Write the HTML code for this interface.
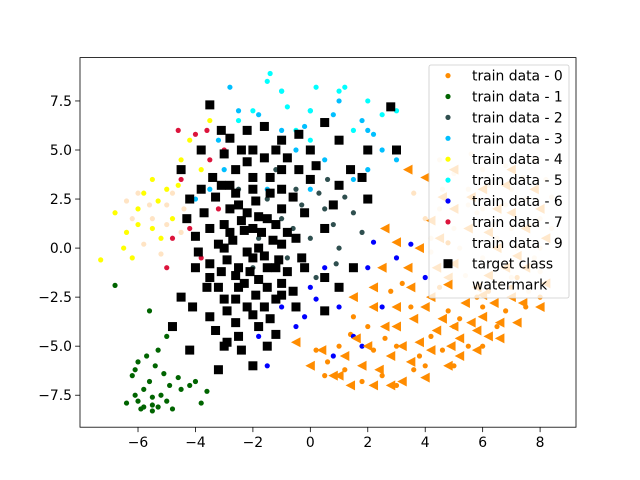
<!DOCTYPE html>
<html><head><meta charset="utf-8"><style>
body{margin:0;background:#fff}
svg{display:block;font-family:"DejaVu Sans","Liberation Sans",sans-serif}
</style></head><body>
<svg id="chart" width="640" height="480" xmlns="http://www.w3.org/2000/svg">
<rect width="640" height="480" fill="#fff"/>
<g id="marks"></g>
<rect x="80" y="57.6" width="496" height="369.6" fill="none" stroke="#000" stroke-width="0.8"/>
<g id="axes"></g>
<g id="legend"></g>
</svg>
<script>
const xTicks=[-6,-4,-2,0,2,4,6,8];
const yTicks=[-7.5,-5,-2.5,0,2.5,5,7.5];
const train0=[[3,-5],[4,-6],[5,-4],[6,-3],[7,-2],[2.5,-6.5],[1,-5],[0.5,-6.5],[3.5,-3],[5.5,-5],[6.5,-4],[7.5,-3],[4.5,-2],[2,-4],[8,-2.5],[1.5,-3.5],[3,-7],[5,-6],[6,-5],[0.2,-5.2],[2.8,-2.2],[4.2,-4.5],[3.8,-5.5],[7.2,-1.5],[6.8,-3.2],[1.2,-6.2],[2.2,-5.2],[4.8,-3.2],[5.8,-2.5],[3.2,-1.8],[1.8,-6.8],[0.6,-5.8],[2.6,-4.6],[4.6,-5.2],[5.2,-3.6],[6.2,-2.2],[3.6,-6.2],[1.4,-4.4]];
const train1=[[-6,-7.8],[-5.8,-7.2],[-5.5,-8],[-5.2,-7.5],[-6.2,-6.5],[-5.6,-6.8],[-5,-7.8],[-4.5,-7.2],[-4.2,-7],[-5.9,-8.2],[-5.4,-6],[-5.7,-5.5],[-5.3,-5.2],[-6,-5.8],[-4.8,-8.2],[-5.1,-6.4],[-6.4,-7.9],[-4.6,-6.6],[-3.6,-7.3],[-3.8,-7.9],[-5,-4.5],[-5.6,-3.2],[-6.8,-1.9],[-5.5,-8.3],[-4,-6.8],[-6.1,-7.5],[-5.8,-8.1],[-5.3,-8.1],[-4.9,-7],[-6.1,-6.2],[-5.5,-7.6]];
const train2=[[-1,1.5],[0,0.5],[0.5,2],[-0.5,3],[1,0],[-2,-1],[0.8,1.2],[-1.5,2.5],[0.2,-1.5],[1.5,1.8],[-0.8,-0.5],[0.6,3.5],[-1.2,4],[1.8,0.8],[-0.3,2.2],[0.9,-0.8],[-2.5,3],[-1.8,0.5],[0.3,2.8],[1.2,2.6],[-0.6,1]];
const train3=[[-2,5],[-1,6],[0,7],[1,5.5],[2,6],[-3,4],[-2.5,7],[0.5,4.5],[1.5,3.5],[2.5,5],[-1.5,3],[-0.5,5],[1,7.5],[-2.8,8.2],[2,4],[-1,8],[0,3],[3,4.5],[-3.5,3],[1.8,6.5],[-4,2.5],[-0.2,6.2],[-1.8,6.8],[0.8,6.8],[2.2,5.8],[-3.2,5.5]];
const train4=[[-6,2],[-5.5,1],[-6.5,0],[-5,3],[-4.5,4.5],[-5.8,2.8],[-6.8,1.8],[-7.3,-0.6],[-5.2,0.5],[-4.2,5.5],[-3.8,4],[-6.2,-0.5],[-5.5,3.5],[-4.8,1.5],[-3.5,6.5],[-6,1.2],[-5.3,2.4],[-4.6,3.2],[-6.4,0.8]];
const train5=[[-1,8],[0,7],[1,8],[2,7.5],[-2,7],[-1.5,8.5],[0.5,6.5],[1.5,6],[-0.5,6],[2.5,6.8],[-1.4,8.9],[1.2,8.2],[0,5.5],[-2.5,6.5],[3,7],[0.2,8.2],[-0.8,7.2]];
const train6=[[0,-2],[1,-3],[2,-1],[3,-0.5],[-0.5,-4],[1.5,-4.5],[2.5,-3],[-1.5,-6],[0.5,-1],[3.5,0.2],[1.8,-5],[-1,-3],[4,-1.5],[2.2,0.3],[0.8,-5.5],[-0.2,-3.5],[-1.8,-4.5],[0.2,-2.6]];
const train7=[[-4,5.8],[-3.5,4.5],[-4.5,3.5],[-3.2,2],[-4.8,0.5],[-3.8,-0.5],[-5,-1],[-4.2,1],[-3,5],[-3.6,6],[-4.6,6]];
const train9=[[5,1],[6,2],[7,3],[8,1.5],[5.5,3],[6.5,0.5],[7.5,2.5],[4.5,2],[8.2,3.5],[6,4],[7,1],[5,3.8],[8,0],[6.8,4.2],[4.2,0.5],[-6,2.8],[-5.5,1.5],[-5,2.2],[-4.5,0.8],[-5.8,0.2],[-4.8,2.8],[-6.2,1.5],[-5.2,-0.3],[7.8,4.5],[5.8,1.8],[4.5,4.5],[5.5,2.2],[6.2,3.2],[6.8,2.2],[7.2,0],[7.8,-0.5],[8.4,1],[5.2,0],[4.8,-0.8],[6,-0.5],[7,-1.5],[8,-1.2],[4,1.5],[4.6,3],[5.6,4.8],[6.4,1.2],[7.4,3.6],[8.4,2.6],[3.6,2.8],[4.2,-0.2],[6.6,-1.8],[5.4,-1.4],[7.6,-2.2],[-5.6,2.2],[-5,1.2],[-4.4,2],[-6.4,2.4]];
const target=[[-3,0],[-2,1],[-1,2],[-2.5,-1],[-1.5,-2],[-3.5,1],[-2,3],[-1,4],[-2.8,2],[-3.2,-2],[-2.2,-3],[-1.2,-1],[-0.5,0.5],[-1.8,0],[-2.6,4],[-3.8,3],[-4,-1],[-4.5,-2.5],[-3.5,-3.5],[-2.5,-4.5],[-3,-5],[-2,-6],[-1.5,-5],[-3.2,-6.2],[-4.2,-5.2],[-4.8,-4],[-2,5],[-1,5.5],[-3.5,7.3],[-2.2,6],[0,5],[0.5,6.4],[1,5.5],[2,5],[2.8,7.2],[3,5],[-1,3],[0,3.5],[1,3.2],[2,2.5],[0.5,1],[-0.2,-1],[0.5,-1.5],[1.5,-1],[0.5,-3.2],[-0.5,-3],[1,-2],[-1.8,-4],[-2.8,0.8],[-3.5,-0.8],[-4.2,2.5],[-4.5,4],[-3,4.8],[-2.5,2.2],[-1.5,1.5],[-2,-0.5],[-1,-1.8],[-2.6,-2.6],[-3.2,0.2],[-4,0.6],[-3.8,5],[-2.8,5.6],[-1.6,6.2],[-0.8,4.6],[0.2,4.2],[1.4,4],[-1.4,2.8],[-2.2,1.8],[-3,1.2],[-1.6,-3],[-2.4,-5.2],[-1.2,-2.6],[-2.9,-3.2],[-3.6,-2],[-1.9,2.4],[-0.6,2.6],[-3.4,3.6],[-2.3,-1.8],[-1,0.2],[-0.2,1.8],
[-2.7,0.4],[-2.3,0.9],[-1.7,0.8],[-1.3,0.4],[-2.9,-0.6],[-2.1,-1.2],[-1.5,-1],[-1.9,-2.4],[-2.5,-2],[-3.1,-1.2],[-2.4,1.4],[-1.8,1.6],[-1.2,1.2],[-2.6,2.8],[-2,3.6],[-1.4,3.6],[-2.8,3.2],[-3.3,2.6],[-3.7,1.8],[-3.9,-0.2],[-2.2,-0.2],[-1.6,-0.4],[-0.8,-1.2],[-1,-2.4],[-2,-3.4],[-2.6,-3.8],[-3,-2.6],[-1.4,-3.6],[-0.6,-2.2],[-3.3,-4.2],[-2.2,4.4],[-1.6,4.6],[-0.4,4],[-2.4,5],[-1.2,5],[-3.1,6],[-0.4,5.8],[-2.9,-4.8],[-1.2,-4.4],[-0.8,0.8],[-3.5,-1.5],[-4.3,1.5],[-1.8,-1.6],[-2.6,-1.4],[-1.1,-0.6],[-3.1,3.2],[-0.3,-0.5],[-4.1,-3],[0.8,2.2],[1.8,3.6]];
const watermark=[[4,3.6],[5,2],[6,3],[7,4],[8,2],[5.5,1],[6.5,0],[7.5,-1],[4.5,0.5],[3,0.3],[2.5,-1],[3.5,-2],[4,-3],[5,-4],[6,-3.5],[7,-2.5],[8,-3],[3,-4],[2,-5],[1.2,-5.5],[0.8,-6.5],[1.8,-6],[3.2,-6.8],[4.2,-5.2],[5.2,-5.5],[6.2,-4.5],[7.2,-3.8],[5.8,-2],[6.8,-1],[4.8,-1.5],[-0.5,-4.8],[2.2,-3],[3.8,-4.8],[4.8,-6],[2.8,-5.5],[1.5,-2.5],[6.5,2],[7.5,1],[8.2,0.5],[5,4],[2.8,-7],[0.4,-5.2],[1,-6.5],[3.5,-5.8],
[4.2,-2.5],[4.6,-3.6],[5.4,-2.8],[5.6,-3.8],[6.4,-2.8],[6.6,-3.8],[7.4,-2.8],[5.2,-4.6],[4.4,-4.2],[4.9,-5],[5.8,-4.2],[6.2,-1.4],[5,-0.8],[4.4,-1],[3.4,-1],[3.8,0],[2.2,-2],[3,-3],[2.6,-4],[3.6,-3.6],[2.4,-6.2],[1.6,-4.6],[4.2,1.4],[5.6,2.6],[6.2,0.8],[7,1.8],[7.8,3],[6.8,3.2],[6,-2.4],[7.2,-0.4],[3.2,-5],[4,-6.6],[5.8,-5.2],[1.4,-7],[2.2,-7],[0,-6],[6.6,-4.6],[8.2,-1.8],[4.6,2.6],[3.4,4],[2.6,1]];
const series=[
 {name:"train data - 0",data:train0,color:"#ff8c00",shape:"dot"},
 {name:"train data - 1",data:train1,color:"#006400",shape:"dot"},
 {name:"train data - 2",data:train2,color:"#2f4f4f",shape:"dot"},
 {name:"train data - 3",data:train3,color:"#00bfff",shape:"dot"},
 {name:"train data - 4",data:train4,color:"#ffff00",shape:"dot"},
 {name:"train data - 5",data:train5,color:"#00ffff",shape:"dot"},
 {name:"train data - 6",data:train6,color:"#0000ff",shape:"dot"},
 {name:"train data - 7",data:train7,color:"#dc143c",shape:"dot"},
 {name:"train data - 9",data:train9,color:"#ffe4c4",shape:"dot"},
 {name:"target class",data:target,color:"#000000",shape:"square"},
 {name:"watermark",data:watermark,color:"#ff8c00",shape:"tri"}
];
const NS="http://www.w3.org/2000/svg";
const X0=80,X1=576,Y0=427.2,Y1=57.6,xmin=-8.02,xmax=9.25,ymin=-9.13,ymax=9.71;
function sx(v){return X0+(v-xmin)/(xmax-xmin)*(X1-X0);}
function sy(v){return Y0-(v-ymin)/(ymax-ymin)*(Y0-Y1);}
function mk(tag,attrs,parent){const e=document.createElementNS(NS,tag);for(const k in attrs)e.setAttribute(k,attrs[k]);parent.appendChild(e);return e;}
function marker(s,x,y,parent){
 let e;
 if(s.shape==="dot")e=mk("circle",{cx:x,cy:y,r:2.6,fill:s.color},parent);
 else if(s.shape==="square")e=mk("rect",{x:x-4.5,y:y-4.5,width:9,height:9,fill:s.color},parent);
 else e=mk("polygon",{points:`${x-5},${y} ${x+4.5},${y-5} ${x+4.5},${y+5}`,fill:s.color},parent);
 return e;
}
const marks=document.getElementById("marks");
series.forEach(s=>{
 const g=mk("g",{},marks);
 
 
 s.data.forEach(p=>{
  const e=marker(s,sx(p[0]),sy(p[1]),g);
  
  
 });
});
const axes=document.getElementById("axes");
xTicks.forEach(t=>{
 const x=sx(t);
 const l=mk("line",{x1:x,x2:x,y1:Y0,y2:Y0+4.9,stroke:"#000","stroke-width":0.8},axes);
 
 
 const tx=mk("text",{x:x,y:Y0+20,"font-size":13.9,"text-anchor":"middle"},axes);
 tx.textContent=(t<0?"\u2212"+(-t):t);
 
 
});
yTicks.forEach(t=>{
 const y=sy(t);
 const l=mk("line",{x1:X0-4.9,x2:X0,y1:y,y2:y,stroke:"#000","stroke-width":0.8},axes);
 
 
 const tx=mk("text",{x:X0-8,y:y+5,"font-size":13.9,"text-anchor":"end"},axes);
 tx.textContent=(t<0?"\u2212"+(-t).toFixed(1):t.toFixed(1));
 
 
});
const leg=document.getElementById("legend");
const box=mk("rect",{x:429,y:65,width:140,height:233,rx:2,fill:"#fff","fill-opacity":0.8,stroke:"#ccc","stroke-width":0.8},leg);


series.forEach((s,i)=>{
 const y=75.6+i*20.9;
 const g=mk("g",{},leg);
 
 
 marker(s,448,y,g);
 const t=mk("text",{x:472,y:y+5,"font-size":13.9},g);
 t.textContent=s.name;
});
</script>
</body></html>
